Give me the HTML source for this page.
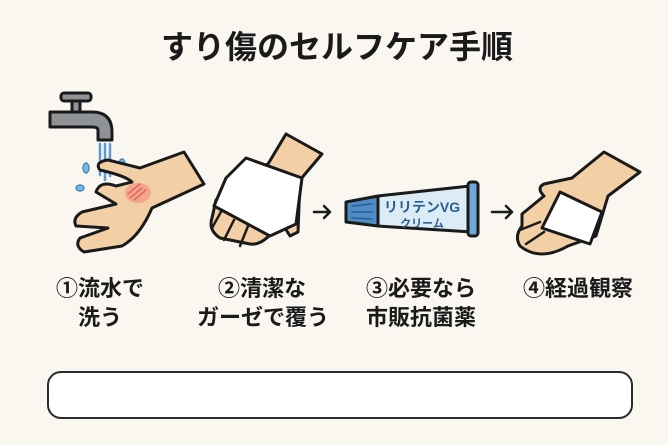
<!DOCTYPE html>
<html><head><meta charset="utf-8"><style>
html,body{margin:0;padding:0;background:#faf7f1;}
svg{display:block}
text{font-family:"Liberation Sans","Noto Sans CJK JP",sans-serif;font-weight:bold;fill:#1a1a1a}
</style></head><body>
<svg width="668" height="445" viewBox="0 0 668 445" xmlns="http://www.w3.org/2000/svg">
<rect width="668" height="445" fill="#faf7f1"/>
<text x="337" y="58" font-size="32" text-anchor="middle">すり傷のセルフケア手順</text>
<g stroke="#1a1a1a" stroke-width="3" stroke-linejoin="round" stroke-linecap="round">
<path d="M50 112 L92 112 Q112 112 112 132 L112 140 L98 140 L98 130 Q98 127 92 127 L50 127 Z" fill="#8f9396"/>
<rect x="72" y="98" width="8" height="14" fill="#8f9396"/>
<rect x="61" y="93" width="30" height="8" rx="3" fill="#8f9396"/>
<g stroke="#5b9bd5" stroke-width="2.5" fill="none">
<path d="M100 144 L100 175"/><path d="M105 144 L105 180"/><path d="M110 144 L110 176"/>
</g>
<g fill="#7fb6e0" stroke="#4a8cc0" stroke-width="1.5">
<ellipse cx="86" cy="168" rx="3" ry="5"/><ellipse cx="122" cy="164" rx="3" ry="5"/><ellipse cx="80" cy="188" rx="4" ry="3"/>
</g>
<path d="M184 152 L204 184 L152 208 Q140 236 122 246 L84 252 Q74 246 80 238 L108 228 L76 226 Q72 218 82 212 L116 204 L96 192 Q100 180 116 186 L132 182 Q126 176 100 170 Q94 162 108 160 L140 168 Z" fill="#f3cfa5"/>
<ellipse cx="138" cy="193" rx="13" ry="10" fill="#f19a8a" stroke="none" opacity="0.8"/>
<g stroke="#e06a5a" stroke-width="1.5"><path d="M130 198 L142 188"/><path d="M134 200 L146 190"/><path d="M128 194 L140 184"/></g>
<path d="M286 134 L322 154 L300 180 L298 232 L290 236 L280 220 Q266 246 250 244 L220 238 Q208 230 212 218 L216 200 L236 178 L268 164 Z" fill="#f3cfa5"/>
<path d="M246 158 L302 178 L296 224 L270 236 L214 206 L226 178 Z" fill="#fff"/>
<g stroke-width="2.5"><path d="M222 210 L212 228"/><path d="M234 220 L224 240"/><path d="M248 226 L240 246"/></g>
<path d="M314 212 L330 212 M324 206 L330 212 L324 218" fill="none" stroke-width="2.5"/>
<path d="M378 196 L470 186 L472 232 L378 226 Z" fill="#dcecf7"/>
<rect x="468" y="182" width="10" height="54" rx="3" fill="#6fa7d8"/>
<path d="M346 202 L378 196 L378 226 L346 222 Z" fill="#4d8cc6"/>
<g stroke="#2a5d8f" stroke-width="1.5"><path d="M352 206 L372 204"/><path d="M352 212 L372 212"/><path d="M352 218 L372 219"/></g>
<path d="M492 212 L512 212 M506 206 L512 212 L506 218" fill="none" stroke-width="2.5"/>
<path d="M604 152 L640 172 L608 196 L596 236 L568 246 Q540 262 520 246 Q514 236 522 226 L522 214 L544 196 Q536 188 544 184 L572 178 Z" fill="#f3cfa5"/>
<path d="M560 192 L602 212 L590 244 L542 228 Z" fill="#fff"/>
<g stroke-width="2.5"><path d="M520 230 L540 222"/><path d="M526 244 L544 232"/></g>
</g>
<text x="422" y="212" font-size="14" text-anchor="middle" style="fill:#2a5d8f">リリテンVG</text>
<text x="422" y="227" font-size="11" text-anchor="middle" style="fill:#2a5d8f">クリーム</text>
<g font-size="22">
<text x="100" y="296" text-anchor="middle">①流水で</text>
<text x="100" y="325" text-anchor="middle">洗う</text>
<text x="262" y="296" text-anchor="middle">②清潔な</text>
<text x="263" y="325" text-anchor="middle">ガーゼで覆う</text>
<text x="421" y="296" text-anchor="middle">③必要なら</text>
<text x="421" y="325" text-anchor="middle">市販抗菌薬</text>
<text x="578" y="296" text-anchor="middle">④経過観察</text>
</g>
<rect x="48" y="372" width="584" height="46" rx="13" fill="#fff" stroke="#2a2a2a" stroke-width="2"/>
</svg>
</body></html>
